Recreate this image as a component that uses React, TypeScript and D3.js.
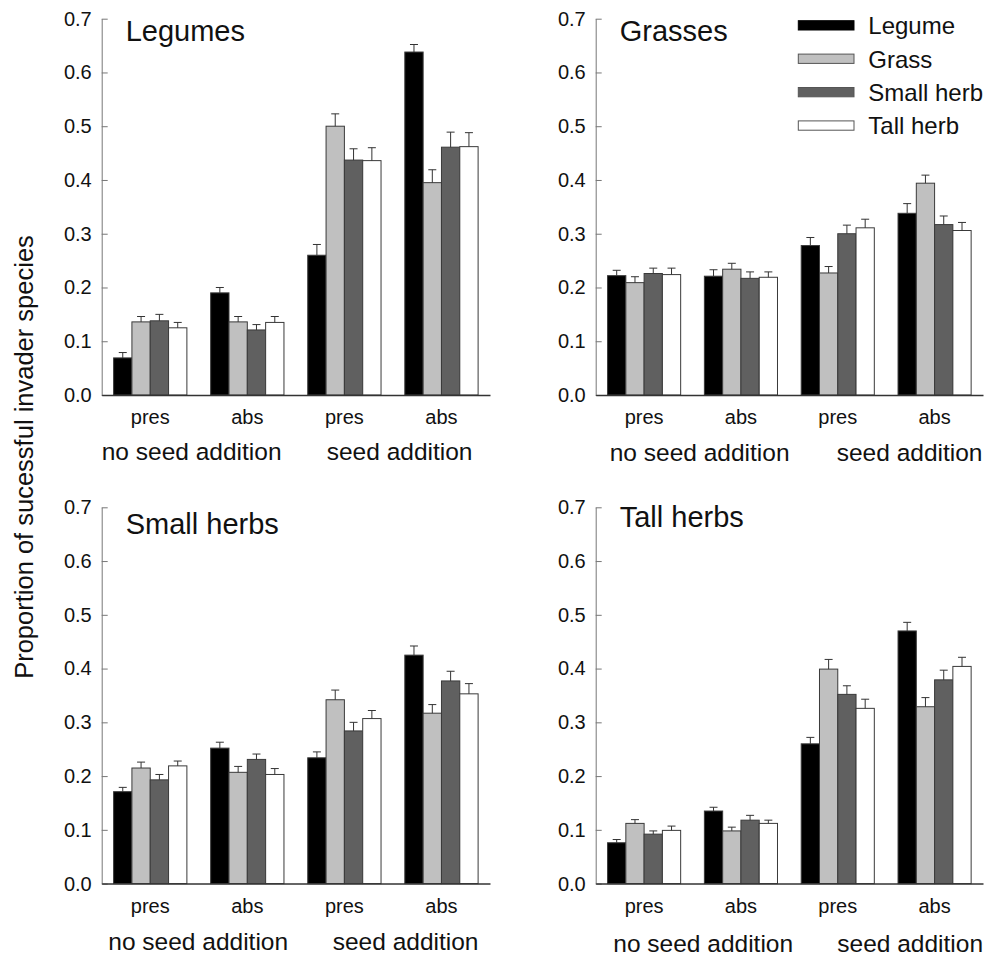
import React, { useEffect, useRef } from 'react';
import * as d3 from 'd3';

// categories
const series = ['Legume', 'Grass', 'Small herb', 'Tall herb'];
const groupLabels = ['pres', 'abs', 'pres', 'abs'];
const yTicks = [0, 0.1, 0.2, 0.3, 0.4, 0.5, 0.6, 0.7];
const colors = ['#000000', '#c0c0c0', '#606060', '#ffffff'];

// means per group (rows) and series (cols)
const legumesMean = [[0.069, 0.136, 0.138, 0.125], [0.19, 0.136, 0.121, 0.135], [0.26, 0.5, 0.437, 0.436], [0.638, 0.395, 0.461, 0.462]];
const legumesSE = [[0.01, 0.01, 0.012, 0.01], [0.01, 0.01, 0.01, 0.011], [0.02, 0.023, 0.021, 0.024], [0.014, 0.024, 0.028, 0.026]];
const grassesMean = [[0.222, 0.209, 0.226, 0.224], [0.221, 0.234, 0.217, 0.219], [0.278, 0.227, 0.3, 0.311], [0.338, 0.394, 0.317, 0.306]];
const grassesSE = [[0.01, 0.011, 0.01, 0.012], [0.012, 0.011, 0.012, 0.01], [0.015, 0.012, 0.016, 0.016], [0.018, 0.015, 0.016, 0.015]];
const smallMean = [[0.171, 0.215, 0.193, 0.219], [0.252, 0.207, 0.231, 0.203], [0.234, 0.342, 0.284, 0.307], [0.425, 0.317, 0.377, 0.353]];
const smallSE = [[0.008, 0.011, 0.01, 0.009], [0.011, 0.011, 0.01, 0.011], [0.011, 0.018, 0.016, 0.015], [0.017, 0.016, 0.018, 0.019]];
const tallMean = [[0.076, 0.112, 0.092, 0.099], [0.135, 0.098, 0.118, 0.112], [0.26, 0.399, 0.352, 0.326], [0.47, 0.329, 0.379, 0.404]];
const tallSE = [[0.006, 0.007, 0.006, 0.008], [0.007, 0.007, 0.009, 0.006], [0.012, 0.018, 0.016, 0.017], [0.016, 0.017, 0.018, 0.017]];

const panels = [
  { title: 'Legumes', mean: legumesMean, se: legumesSE, x: 101.7, y: 18.7, w: 388.3, titleDy: 22, noSeedDx: 0, seedDx: 225, labelDy: 65.5 },
  { title: 'Grasses', mean: grassesMean, se: grassesSE, x: 595.7, y: 18.7, w: 387.3, titleDy: 22, noSeedDx: 14, seedDx: 241, labelDy: 66 },
  { title: 'Small herbs', mean: smallMean, se: smallSE, x: 101.7, y: 507.3, w: 388.3, titleDy: 27, noSeedDx: 6.6, seedDx: 231, labelDy: 66 },
  { title: 'Tall herbs', mean: tallMean, se: tallSE, x: 595.7, y: 507.3, w: 387.3, titleDy: 19.5, noSeedDx: 17.6, seedDx: 241.6, labelDy: 68 },
];

const FONT = '"Liberation Sans", Arial, sans-serif';
const H = 376.3;

const App = () => {
  const ref = useRef(null);

  useEffect(() => {
    const svg = d3.select(ref.current);
    svg.selectAll('*').remove();

    const y = d3.scaleLinear().domain([0, 0.7]).range([H, 0]);

    panels.forEach((p) => {
      const g = svg.append('g').attr('transform', `translate(${p.x},${p.y})`);

      const x0 = d3.scaleBand()
        .domain(d3.range(groupLabels.length))
        .range([0, p.w])
        .paddingInner(0.245)
        .paddingOuter(0.1225);
      const x1 = d3.scaleBand()
        .domain(d3.range(series.length))
        .range([0, x0.bandwidth()]);

      // bars
      const grp = g.selectAll('g.grp')
        .data(p.mean)
        .enter()
        .append('g')
        .attr('transform', (d, i) => `translate(${x0(i)},0)`);

      grp.selectAll('rect')
        .data(d => d)
        .enter()
        .append('rect')
        .attr('x', (d, i) => x1(i))
        .attr('y', d => y(d))
        .attr('width', x1.bandwidth())
        .attr('height', d => H - y(d))
        .attr('fill', (d, i) => colors[i])
        .attr('stroke', '#3a3a3a')
        .attr('stroke-width', 1);

      // error bars (upper only)
      grp.each(function (row, gi) {
        const eg = d3.select(this);
        row.forEach((m, si) => {
          const cx = x1(si) + x1.bandwidth() / 2;
          const top = y(m + p.se[gi][si]);
          eg.append('line')
            .attr('x1', cx).attr('x2', cx)
            .attr('y1', y(m)).attr('y2', top)
            .attr('stroke', '#333').attr('stroke-width', 1);
          eg.append('line')
            .attr('x1', cx - 4).attr('x2', cx + 4)
            .attr('y1', top).attr('y2', top)
            .attr('stroke', '#333').attr('stroke-width', 1);
        });
      });

      // y axis
      const ya = g.append('g')
        .call(d3.axisLeft(y).tickValues(yTicks).tickFormat(d3.format('.1f')).tickSizeInner(-6).tickSizeOuter(0).tickPadding(10));
      ya.select('.domain').attr('stroke', '#777');
      ya.selectAll('.tick line').attr('stroke', '#777');
      ya.selectAll('text').attr('font-size', 20).attr('font-family', FONT).attr('fill', '#111');

      // x axis
      const xa = g.append('g')
        .attr('transform', `translate(0,${H})`)
        .call(d3.axisBottom(x0).tickFormat(i => groupLabels[i]).tickSize(0).tickPadding(15));
      xa.select('.domain').attr('stroke', '#333').attr('stroke-width', 1.5);
      xa.selectAll('text').attr('font-size', 20).attr('font-family', FONT).attr('fill', '#111');

      // treatment labels
      g.append('text')
        .attr('x', p.noSeedDx).attr('y', H + p.labelDy)
        .attr('font-size', 24.5).attr('font-family', FONT).attr('fill', '#111')
        .text('no seed addition');
      g.append('text')
        .attr('x', p.seedDx).attr('y', H + p.labelDy)
        .attr('font-size', 24.5).attr('font-family', FONT).attr('fill', '#111')
        .text('seed addition');

      // panel title
      g.append('text')
        .attr('x', 24).attr('y', p.titleDy)
        .attr('font-size', 29).attr('font-family', FONT).attr('fill', '#111')
        .text(p.title);
    });

    // legend
    const lg = svg.append('g').attr('transform', 'translate(798.3,20.7)');
    series.forEach((s, i) => {
      lg.append('rect')
        .attr('x', 0).attr('y', i * 33.4)
        .attr('width', 55.7).attr('height', 9.3)
        .attr('fill', colors[i])
        .attr('stroke', i === 0 ? '#000' : '#555').attr('stroke-width', 1);
      lg.append('text')
        .attr('x', 70).attr('y', i * 33.4 + 13.6)
        .attr('font-size', 24).attr('font-family', FONT).attr('fill', '#111')
        .text(s);
    });

    // shared y label
    svg.append('text')
      .attr('transform', 'translate(33,457) rotate(-90)')
      .attr('text-anchor', 'middle')
      .attr('font-size', 25.5).attr('font-family', FONT).attr('fill', '#111')
      .text('Proportion of sucessful invader species');
  }, []);

  return <svg ref={ref} width={992} height={961} style={{ position: 'absolute', left: 0, top: 0, background: '#fff' }}></svg>;
};

export default App;
